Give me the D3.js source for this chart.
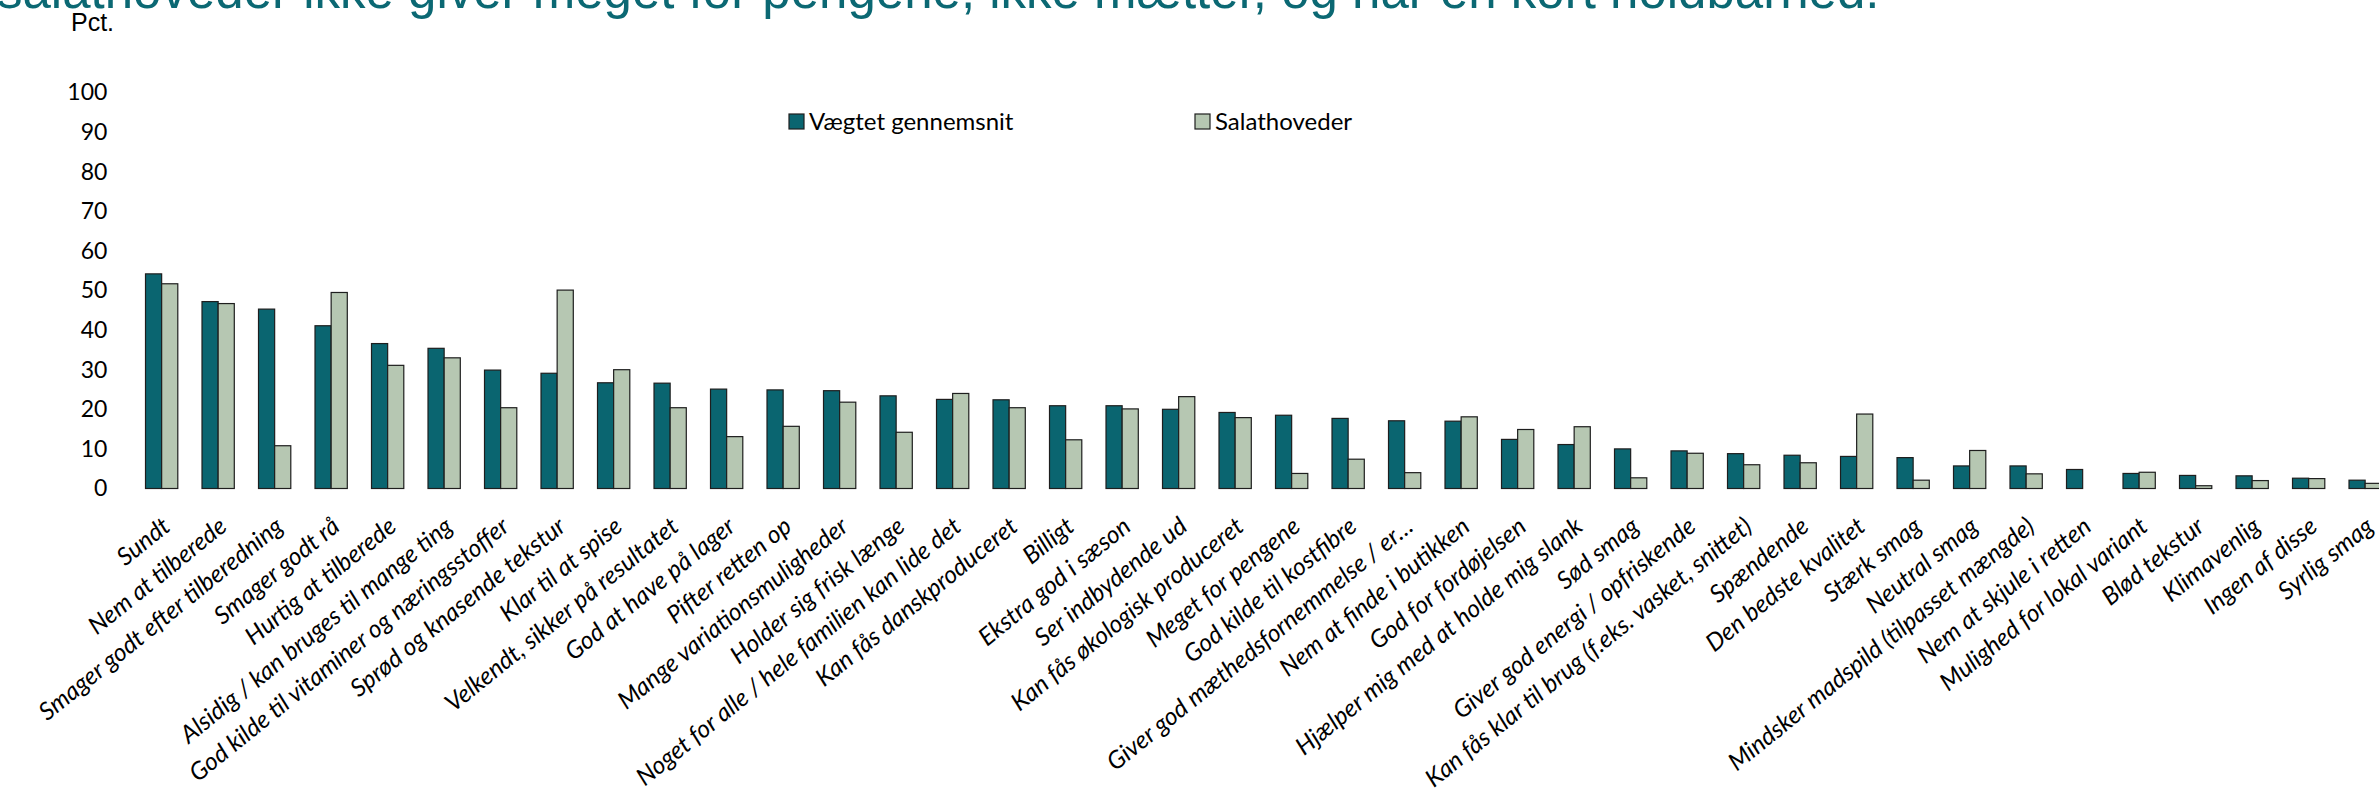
<!DOCTYPE html>
<html lang="da">
<head>
<meta charset="utf-8">
<script src="https://cdn.jsdelivr.net/npm/d3@7"></script>
<style>
  html, body { margin: 0; padding: 0; background: #fff; overflow: hidden; }
  svg { display: block; }
</style>
</head>
<body>
<svg id="chart" width="2379" height="807"></svg>
<script>
// Egenskaber forbundet med salathoveder sammenlignet med det vægtede gennemsnit
const categories = [
  "Sundt", "Nem at tilberede", "Smager godt efter tilberedning", "Smager godt rå",
  "Hurtig at tilberede", "Alsidig / kan bruges til mange ting",
  "God kilde til vitaminer og næringsstoffer", "Sprød og knasende tekstur",
  "Klar til at spise", "Velkendt, sikker på resultatet", "God at have på lager",
  "Pifter retten op", "Mange variationsmuligheder", "Holder sig frisk længe",
  "Noget for alle / hele familien kan lide det", "Kan fås danskproduceret",
  "Billigt", "Ekstra god i sæson", "Ser indbydende ud", "Kan fås økologisk produceret",
  "Meget for pengene", "God kilde til kostfibre", "Giver god mæthedsfornemmelse / er…",
  "Nem at finde i butikken", "God for fordøjelsen", "Hjælper mig med at holde mig slank",
  "Sød smag", "Giver god energi / opfriskende",
  "Kan fås klar til brug (f.eks. vasket, snittet)", "Spændende", "Den bedste kvalitet",
  "Stærk smag", "Neutral smag", "Mindsker madspild (tilpasset mængde)",
  "Nem at skjule i retten", "Mulighed for lokal variant", "Blød tekstur",
  "Klimavenlig", "Ingen af disse", "Syrlig smag"
];

const vaegtetGennemsnit = [
  54.2, 47.2, 45.3, 41.1, 36.6, 35.4, 29.9, 29.1, 26.7, 26.6,
  25.1, 24.9, 24.7, 23.4, 22.5, 22.4, 20.9, 20.9, 20.0, 19.2,
  18.5, 17.7, 17.1, 17.0, 12.4, 11.1, 10.0, 9.5, 8.8, 8.4,
  8.1, 7.8, 5.7, 5.7, 4.8, 3.8, 3.3, 3.2, 2.6, 2.1
];

const salathoveder = [
  51.7, 46.7, 10.8, 49.5, 31.1, 33.0, 20.4, 50.1, 30.0, 20.4,
  13.1, 15.7, 21.8, 14.2, 24.0, 20.4, 12.3, 20.1, 23.2, 17.9,
  3.8, 7.4, 4.0, 18.1, 14.9, 15.6, 2.7, 8.9, 6.0, 6.5,
  18.8, 2.1, 9.6, 3.7, 0, 4.1, 0.7, 2.0, 2.5, 1.3
];

const seriesNames = ["Vægtet gennemsnit", "Salathoveder"];
const yTicks = [0, 10, 20, 30, 40, 50, 60, 70, 80, 90, 100];

const colors = { "Vægtet gennemsnit": "#0a6570", "Salathoveder": "#b6c7b2" };

const rows = categories.map((c, i) => ({
  category: c,
  values: [
    { series: seriesNames[0], value: vaegtetGennemsnit[i] },
    { series: seriesNames[1], value: salathoveder[i] }
  ]
}));

const svg = d3.select("#chart");

const plot = { left: 133.4, right: 2393.4, top: 92.5, bottom: 488.5 };

const x = d3.scaleBand()
  .domain(categories)
  .range([plot.left, plot.right])
  .paddingInner(1.5 / 3.5)
  .paddingOuter(0.75 / 3.5);

const xs = d3.scaleBand()
  .domain(seriesNames)
  .range([0, x.bandwidth()]);

const y = d3.scaleLinear()
  .domain([0, 100])
  .range([plot.bottom, plot.top]);

// Titel (fortsat linje, delvist over kanten)
svg.append("text")
  .attr("x", -3)
  .attr("y", 8)
  .attr("font-family", "'Liberation Sans', Arial, sans-serif")
  .attr("font-size", 51)
  .attr("fill", "#0b6873")
  .text("salathoveder ikke giver meget for pengene, ikke mætter, og har en kort holdbarhed.");

// Enhed
svg.append("text")
  .attr("x", 71)
  .attr("y", 31)
  .attr("font-family", "'Liberation Sans', Arial, sans-serif")
  .attr("font-size", 25)
  .attr("fill", "#000")
  .text("Pct.");

// Y-akse uden linje og streger
const yAxis = svg.append("g")
  .attr("transform", `translate(${plot.left - 26},0)`)
  .call(d3.axisLeft(y).tickValues(yTicks).tickSize(0).tickPadding(0).tickFormat(d3.format("d")));
yAxis.select(".domain").remove();
yAxis.selectAll("text")
  .attr("font-family", "Lato, 'Open Sans', sans-serif")
  .attr("font-size", 23)
  .attr("fill", "#000");

// Søjler
const groups = svg.append("g")
  .selectAll("g")
  .data(rows)
  .join("g")
  .attr("transform", d => `translate(${x(d.category)},0)`);

groups.selectAll("rect")
  .data(d => d.values)
  .join("rect")
  .attr("x", d => xs(d.series))
  .attr("y", d => y(d.value))
  .attr("width", xs.bandwidth())
  .attr("height", d => y(0) - y(d.value))
  .attr("fill", d => colors[d.series])
  .attr("stroke", "#1e1e1e")
  .attr("stroke-width", d => d.value > 0 ? 1.2 : 0);

// Kategorietiketter, skråtstillet
const angle = -39;
svg.append("g")
  .selectAll("text")
  .data(categories)
  .join("text")
  .attr("transform", d => `translate(${x(d) + x.bandwidth() / 2 - 1},${plot.bottom + 27}) rotate(${angle})`)
  .attr("text-anchor", "end")
  .attr("dy", "0.72em")
  .attr("font-family", "Lato, 'Open Sans', sans-serif")
  .attr("font-style", "italic")
  .attr("font-size", 24.5)
  .attr("fill", "#000")
  .text(d => d);

// Forklaring
const legendPos = [
  { name: seriesNames[0], x: 789 },
  { name: seriesNames[1], x: 1195 }
];
const legend = svg.append("g")
  .selectAll("g")
  .data(legendPos)
  .join("g")
  .attr("transform", d => `translate(${d.x},114)`);

legend.append("rect")
  .attr("width", 15)
  .attr("height", 15)
  .attr("fill", d => colors[d.name])
  .attr("stroke", "#1e1e1e")
  .attr("stroke-width", 1.2);

legend.append("text")
  .attr("x", 20)
  .attr("y", 16)
  .attr("font-family", "Lato, 'Open Sans', sans-serif")
  .attr("font-size", 24)
  .attr("fill", "#000")
  .text(d => d.name);
</script>
</body>
</html>
